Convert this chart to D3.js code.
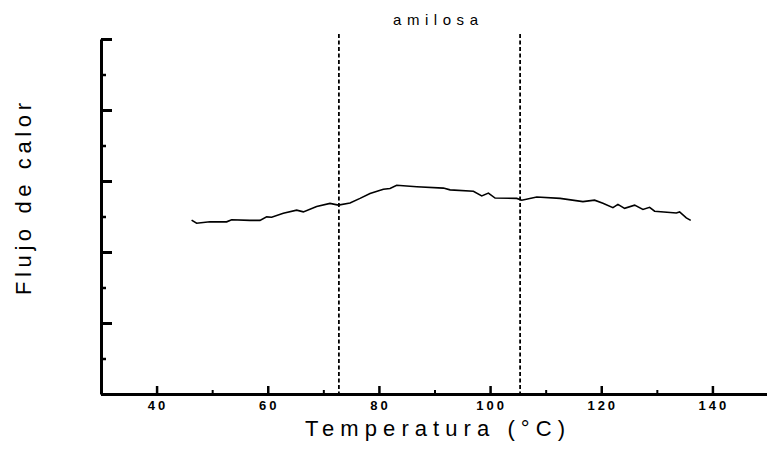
<!DOCTYPE html>
<html>
<head>
<meta charset="utf-8">
<script src="https://cdn.jsdelivr.net/npm/d3@7"></script>
<style>
  body { margin: 0; background: #fff; }
  svg { display: block; font-family: "Liberation Sans", Arial, sans-serif; }
</style>
</head>
<body>
<div id="chart"></div>
<script>
// Temperature (°C) and heat flow (arbitrary units)
var temps = [46.3, 47.2, 49.6, 52.6, 53.5, 56.8, 58.6, 59.8, 60.7, 62.8, 65.2, 66.4, 68.8, 71.2,
             72.7, 74.8, 76.6, 78.4, 80.8, 82.0, 83.2, 86.8, 91.6, 92.8, 97.0, 98.5, 99.7, 100.9,
             104.8, 105.7, 108.4, 112.6, 116.7, 118.8, 120.3, 122.1, 123.0, 124.2, 126.0, 127.5,
             128.7, 129.6, 133.5, 134.1, 135.3, 136.1];
var heatFlow = [4.90, 4.81, 4.85, 4.85, 4.91, 4.89, 4.89, 4.99, 4.98, 5.09, 5.18, 5.13, 5.28, 5.37,
                5.32, 5.38, 5.51, 5.65, 5.77, 5.79, 5.88, 5.84, 5.80, 5.75, 5.71, 5.58, 5.66, 5.52,
                5.51, 5.46, 5.55, 5.51, 5.42, 5.46, 5.37, 5.25, 5.34, 5.23, 5.32, 5.20,
                5.26, 5.15, 5.10, 5.13, 4.96, 4.89];
// vertical dashed markers (onset / end temperatures)
var markers = [72.8, 105.4];
var xMajorTicks = [40, 60, 80, 100, 120, 140];
var xMinorTicks = [30, 50, 70, 90, 110, 130, 150];
var yMajorTicks = [0, 2, 4, 6, 8, 10];
var yMinorTicks = [1, 3, 5, 7, 9];

var w = 767, h = 458;
var margin = { top: 39, left: 101, bottom: 64 };

var svg = d3.select("#chart").append("svg")
    .attr("width", w)
    .attr("height", h);

var x = d3.scaleLinear().domain([30, 150]).range([margin.left, 768]);
var y = d3.scaleLinear().domain([0, 10]).range([h - margin.bottom, margin.top]);

// minor x ticks
svg.append("g")
    .attr("transform", "translate(0," + y(0) + ")")
    .call(d3.axisBottom(x).tickValues(xMinorTicks).tickSize(-4).tickFormat(""))
    .call(function(g) { g.select(".domain").remove(); })
    .selectAll("line").attr("stroke-width", 2);

// major x ticks with labels
var xAxis = svg.append("g")
    .attr("transform", "translate(0," + y(0) + ")")
    .call(d3.axisBottom(x).tickValues(xMajorTicks).tickSize(-8).tickSizeOuter(0).tickPadding(7));
xAxis.select(".domain").attr("stroke-width", 3);
xAxis.selectAll("line").attr("stroke-width", 2.5);
xAxis.selectAll("text")
    .attr("font-size", 13)
    .attr("font-weight", "bold")
    .attr("letter-spacing", "3px")
    .attr("dx", "1px")
    .attr("fill", "#000");

// minor y ticks
svg.append("g")
    .attr("transform", "translate(" + x(30) + ",0)")
    .call(d3.axisLeft(y).tickValues(yMinorTicks).tickSize(-5).tickFormat(""))
    .call(function(g) { g.select(".domain").remove(); })
    .selectAll("line").attr("stroke-width", 2.5);

// major y ticks, no labels
var yAxis = svg.append("g")
    .attr("transform", "translate(" + x(30) + ",0)")
    .call(d3.axisLeft(y).tickValues(yMajorTicks).tickSize(-11).tickSizeOuter(0).tickFormat(""));
yAxis.select(".domain").attr("stroke-width", 3);
yAxis.selectAll("line").attr("stroke-width", 3);

// dashed marker lines
svg.selectAll(".marker")
    .data(markers)
    .enter().append("line")
    .attr("class", "marker")
    .attr("x1", function(d) { return x(d); })
    .attr("x2", function(d) { return x(d); })
    .attr("y1", margin.top - 5)
    .attr("y2", y(0))
    .attr("stroke", "#000")
    .attr("stroke-width", 1.8)
    .attr("stroke-dasharray", "4,2.5");

// DSC curve
var line = d3.line()
    .x(function(d, i) { return x(temps[i]); })
    .y(function(d) { return y(d); });

svg.append("path")
    .datum(heatFlow)
    .attr("d", line)
    .attr("fill", "none")
    .attr("stroke", "#000")
    .attr("stroke-width", 1.6);

// title
svg.append("text")
    .attr("x", 393)
    .attr("y", 25)
    .attr("font-size", 15)
    .attr("textLength", 85)
    .attr("lengthAdjust", "spacing")
    .text("amilosa");

// axis titles
svg.append("text")
    .attr("x", 305)
    .attr("y", 436)
    .attr("font-size", 22)
    .attr("textLength", 260)
    .attr("lengthAdjust", "spacing")
    .text("Temperatura (°C)");

svg.append("text")
    .attr("transform", "translate(31,295) rotate(-90)")
    .attr("font-size", 22)
    .attr("textLength", 192)
    .attr("lengthAdjust", "spacing")
    .text("Flujo de calor");
</script>
</body>
</html>
